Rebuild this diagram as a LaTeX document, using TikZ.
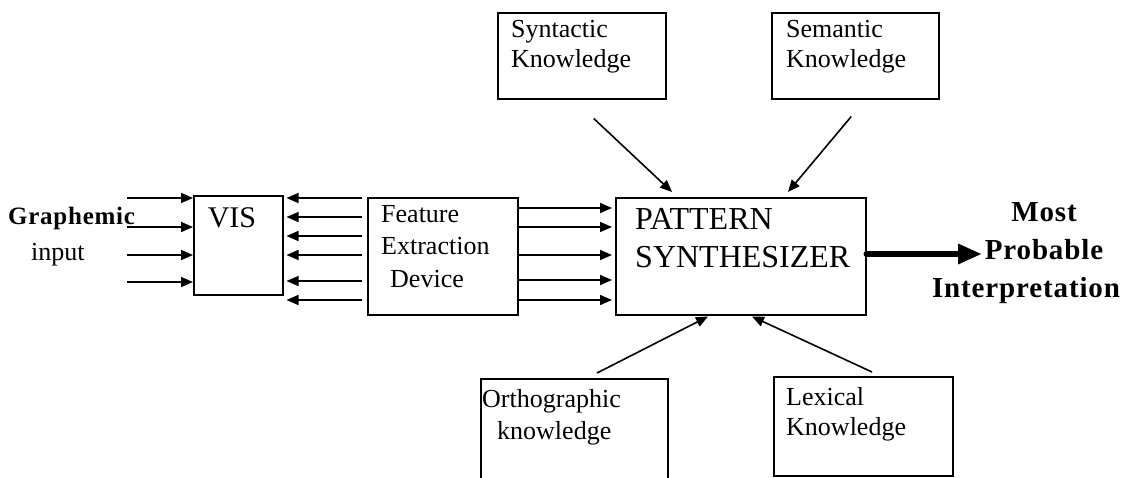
\documentclass[tikz,border=0pt]{standalone}
\usepackage{fontspec}
\setmainfont{Liberation Serif}
\newfontfamily\gfont[LetterSpace=3]{Liberation Serif}
\newfontfamily\mfont[LetterSpace=3]{Liberation Serif}
\usetikzlibrary{arrows.meta,calc}
\begin{document}
\begin{tikzpicture}[x=1pt,y=-1pt,
  box/.style={draw,line width=1.5pt,inner sep=0pt,anchor=north west},
  lbl/.style={inner sep=0pt,anchor=north west,align=left,font=\fontsize{26}{30}\selectfont},
  arr/.style={line width=1.6pt,-{Triangle[length=12pt,width=10pt]}},
  big/.style={line width=6pt,line cap=round,-{Triangle[length=24pt,width=19pt]}}]
\useasboundingbox (0,0) rectangle (1131,477);
% boxes
\node[box,minimum width=89,minimum height=99] (vis) at (193,195) {};
\node[inner sep=0pt,anchor=base,font=\fontsize{30}{36}\selectfont] (vistxt) at (232,227) {VIS};
\node[box,minimum width=150,minimum height=117] (feat) at (367,197) {};
\node[lbl,font=\fontsize{26}{32.5}\selectfont] (feattxt) at (381,205) {Feature\\Extraction\\\hspace*{9pt}Device};
\node[box,minimum width=250,minimum height=117] (pat) at (615,197) {};
\node[lbl,font=\fontsize{32}{38}\selectfont] (pattxt) at (635,208) {PATTERN\\SYNTHESIZER};
\node[box,minimum width=168,minimum height=86] (syn) at (497,12) {};
\node[lbl] (syntxt) at (511,20) {Syntactic\\Knowledge};
\node[box,minimum width=167,minimum height=86] (sem) at (771,12) {};
\node[lbl] (semtxt) at (786,20) {Semantic\\Knowledge};
\draw[line width=1.5pt] (481,480) -- (481,379) coordinate (orthTL) -- (668,379) -- (668,480);
\node[lbl,font=\fontsize{26}{32}\selectfont] (orthtxt) at (482,389) {Orthographic\\\hspace*{15pt}knowledge};
\node[box,minimum width=179,minimum height=99] (lex) at (773,376) {};
\node[lbl] (lextxt) at (786,387) {Lexical\\Knowledge};
% texts
\node[inner sep=0pt,anchor=base west,font=\gfont\bfseries\fontsize{25}{28}\selectfont] (graph) at (8,224) {Graphemic};
\node[inner sep=0pt,anchor=base west,font=\fontsize{26}{31}\selectfont] (inp) at (31,260) {input};
\node[inner sep=0pt,anchor=north,align=center,font=\mfont\bfseries\fontsize{29}{38}\selectfont] (mpi) at (1044,202) {Most\\Probable\\Interpretation\hspace*{36pt}};
% input arrows
\foreach \y in {198,227,255,282} \draw[arr] (127,\y) -- (vis.west |- 0,\y);
% feature -> vis
\foreach \y in {198,217,236,255,281,300} \draw[arr] ($(feat.west |- 0,\y)+(-5,0)$) -- ($(vis.east |- 0,\y)+(3,0)$);
% feature -> pattern
\foreach \y in {208,227,255,280,300} \draw[arr] (feat.east |- 0,\y) -- ($(pat.west |- 0,\y)+(-3,0)$);
% knowledge arrows
\draw[arr] ($(syn.south)+(12,19)$) -- ($(pat.north west)+(57,-5)$);
\draw[arr] ($(sem.south)+(-4,17)$) -- ($(pat.north west)+(173,-5)$);
\draw[arr] ($(orthTL)+(116,-6)$) -- ($(pat.south west)+(93,1)$);
\draw[arr] ($(lex.north west)+(99,-4)$) -- ($(pat.south west)+(137,1)$);
\draw[big] (pat.east |- 0,254) -- (982,254);
\end{tikzpicture}
\end{document}
